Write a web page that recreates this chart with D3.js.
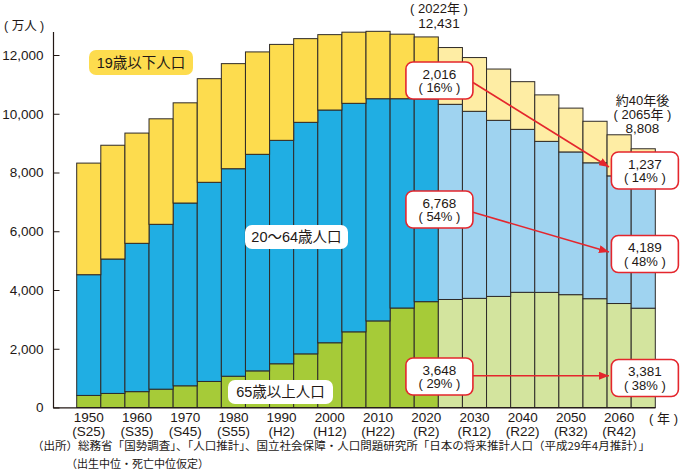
<!DOCTYPE html>
<html><head><meta charset="utf-8">
<script src="https://cdn.jsdelivr.net/npm/d3@7"></script>
<style>
body{margin:0;background:#fff}
svg{display:block}
text{font-family:"Liberation Sans","Noto Sans CJK JP",sans-serif;fill:#231815}
.jp{font-family:"Noto Sans CJK JP",sans-serif}
</style>
</head><body>
<svg id="c" width="680" height="472"></svg>
<script>
// ---- data (万人) ----
const years = [1950,1955,1960,1965,1970,1975,1980,1985,1990,1995,2000,2005,2010,2015,2020,2025,2030,2035,2040,2045,2050,2055,2060,2065];
const over65    = [411,479,540,624,739,887,1065,1247,1489,1826,2204,2576,2948,3387,3603,3677,3716,3782,3921,3919,3841,3704,3540,3381];
const age20to64 = [4110,4576,5049,5612,6222,6779,7064,7372,7606,7882,7923,7779,7564,7125,6905,6644,6367,5994,5548,5141,4859,4626,4345,4189];
const under19   = [3799,3873,3753,3592,3411,3528,3577,3486,3266,2849,2566,2422,2294,2197,2107,1933,1830,1746,1623,1582,1492,1414,1399,1238];
const firstProjected = 2025;
const tickYears = [1950,1960,1970,1980,1990,2000,2010,2020,2030,2040,2050,2060];
const eraLabels = ["(S25)","(S35)","(S45)","(S55)","(H2)","(H12)","(H22)","(R2)","(R12)","(R22)","(R32)","(R42)"];
const yTicks = [0,2000,4000,6000,8000,10000,12000];
const seriesKeys = ["over65","age20to64","under19"];
const seriesNames = ["65歳以上人口","20～64歳人口","19歳以下人口"];
// callouts: [value, share]
const calloutLeft  = [["2,016","( 16% )"],["6,768","( 54% )"],["3,648","( 29% )"]];
const calloutRight = [["1,237","( 14% )"],["4,189","( 48% )"],["3,381","( 38% )"]];

const colors = {
  over65:    {solid:"#a6cb38", proj:"#d3e49e"},
  age20to64: {solid:"#20aee3", proj:"#9fd3f0"},
  under19:   {solid:"#fddc4e", proj:"#feeda4"}
};
const red = "#e4262d";

const rows = years.map((yr,i)=>({year:yr, over65:over65[i], age20to64:age20to64[i], under19:under19[i]}));
const stacked = d3.stack().keys(seriesKeys)(rows);

const svg = d3.select("#c");
const x = d3.scaleBand().domain(years).range([76.7,655.3]).padding(0);
const y = d3.scaleLinear().domain([0,12000]).range([407.5,55]);

// bars
const g = svg.append("g");
stacked.forEach(layer=>{
  g.selectAll(null).data(layer).join("rect")
    .attr("x", d=>x(d.data.year))
    .attr("width", x.bandwidth())
    .attr("y", d=>y(d[1]))
    .attr("height", d=>y(d[0])-y(d[1]))
    .attr("fill", d=> d.data.year>=firstProjected ? colors[layer.key].proj : colors[layer.key].solid)
    .attr("stroke","#2e2a28").attr("stroke-width",1);
});

// y axis
const yAxis = d3.axisLeft(y).tickValues(yTicks).tickSize(-6).tickPadding(10).tickFormat(d3.format(","));
const ya = svg.append("g").attr("transform","translate(53.5,0)").call(yAxis);
ya.select(".domain").remove();
ya.selectAll(".tick line").attr("stroke","#231815");
ya.selectAll(".tick text").attr("font-size",13.5).attr("font-family",null).style("fill","#231815");
svg.append("line").attr("x1",53.5).attr("x2",53.5).attr("y1",32).attr("y2",408).attr("stroke","#231815").attr("stroke-width",1.2);
svg.append("line").attr("x1",53).attr("x2",655.5).attr("y1",407.8).attr("y2",407.8).attr("stroke","#231815").attr("stroke-width",1.2);

// x axis labels
const xa = svg.append("g");
tickYears.forEach((yr,i)=>{
  const cx = x(yr)+x.bandwidth()/2;
  xa.append("text").attr("x",cx).attr("y",422).attr("text-anchor","middle").attr("font-size",13.5).text(yr);
  xa.append("text").attr("x",cx).attr("y",435.5).attr("text-anchor","middle").attr("font-size",13.5).text(eraLabels[i]);
});
svg.append("text").attr("x",678).attr("y",422.5).attr("text-anchor","end").attr("font-size",13).text("( 年 )");
svg.append("text").attr("x",4).attr("y",29.5).attr("font-size",12.5).text("( 万人 )");

// series labels
function pill(cx,cy,w,h,fill,label){
  svg.append("rect").attr("x",cx-w/2).attr("y",cy-h/2).attr("width",w).attr("height",h).attr("rx",7).attr("fill",fill);
  svg.append("text").attr("x",cx).attr("y",cy+5).attr("text-anchor","middle").attr("font-size",14.5).text(label);
}
pill(141,62.5,104,25,colors.under19.solid,seriesNames[2]);
pill(296.5,237,103,24,"#ffffff",seriesNames[1]);
pill(280.5,392,105,24,"#ffffff",seriesNames[0]);

// top labels
svg.append("text").attr("x",439).attr("y",13).attr("text-anchor","middle").attr("font-size",13).text("( 2022年 )");
svg.append("text").attr("x",439).attr("y",28).attr("text-anchor","middle").attr("font-size",13.5).text("12,431");
svg.append("text").attr("x",642.5).attr("y",104.5).attr("text-anchor","middle").attr("font-size",13).text("約40年後");
svg.append("text").attr("x",642.5).attr("y",119).attr("text-anchor","middle").attr("font-size",13).text("( 2065年 )");
svg.append("text").attr("x",642.5).attr("y",132.5).attr("text-anchor","middle").attr("font-size",13.5).text("8,808");

// arrows
svg.append("defs").append("marker").attr("id","ah").attr("viewBox","0 0 10 8")
  .attr("refX",10).attr("refY",4).attr("markerWidth",10).attr("markerHeight",8)
  .attr("markerUnits","userSpaceOnUse").attr("orient","auto")
  .append("path").attr("d","M0,0L10,4L0,8Z").attr("fill",red);
const arrows = [[473,82.5,609,167],[473,212.3,609,252],[473,375.7,609,375.7]];
arrows.forEach(a=>{
  svg.append("line").attr("x1",a[0]).attr("y1",a[1]).attr("x2",a[2]).attr("y2",a[3])
    .attr("stroke",red).attr("stroke-width",1.6).attr("marker-end","url(#ah)");
});

// callout boxes
function callout(x0,y0,w,h,lines){
  svg.append("rect").attr("x",x0).attr("y",y0).attr("width",w).attr("height",h).attr("rx",7)
    .attr("fill","#fff").attr("stroke",red).attr("stroke-width",1.6);
  svg.append("text").attr("x",x0+w/2).attr("y",y0+16.5).attr("text-anchor","middle").attr("font-size",13.5).text(lines[0]);
  svg.append("text").attr("x",x0+w/2).attr("y",y0+30).attr("text-anchor","middle").attr("font-size",13).text(lines[1]);
}
const leftX = x(2020)-8.3, rightX = x(2060)+4.3;
const leftY = [62,191,358], rightY = [152,235.5,359.5];
calloutLeft.forEach((c,i)=>callout(leftX,leftY[i],67,37,c));
calloutRight.forEach((c,i)=>callout(rightX,rightY[i],67,37,c));

// footnote
svg.append("text").attr("class","jp").attr("x",32).attr("y",450).attr("font-size",11)
  .attr("textLength",618).attr("lengthAdjust","spacingAndGlyphs")
  .text("（出所）総務省「国勢調査」、「人口推計」、国立社会保障・人口問題研究所「日本の将来推計人口（平成29年4月推計）」");
svg.append("text").attr("class","jp").attr("x",66).attr("y",467.5).attr("font-size",11)
  .text("（出生中位・死亡中位仮定）");
</script>
</body></html>
